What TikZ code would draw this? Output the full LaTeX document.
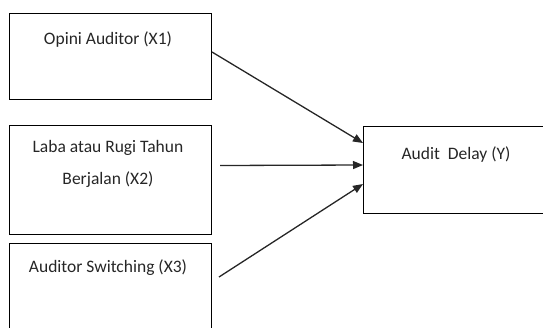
\documentclass[tikz,border=0pt]{standalone}
\usepackage{fontspec}
\setmainfont{Carlito}
\usetikzlibrary{arrows.meta,calc}
\begin{document}
\begin{tikzpicture}[x=1pt,y=-1pt,
  boxstyle/.style={draw=black,line width=1pt,rectangle,inner sep=0pt,anchor=north west},
  txt/.style={font=\fontsize{17.5}{32}\selectfont,align=center,inner sep=0pt,text=black!85},
  conn/.style={draw=black!85,line width=1.3pt,-{Triangle[length=10pt,width=8pt]}}]
\useasboundingbox (0,0) rectangle (543,327);
\clip (0,0) rectangle (543,327);
\node[boxstyle,minimum width=202pt,minimum height=86pt] (b1) at (9,13) {};
\node[boxstyle,minimum width=202pt,minimum height=109pt] (b2) at (9,125) {};
\node[boxstyle,minimum width=202pt,minimum height=110pt] (b3) at (9,243) {};
\node[boxstyle,minimum width=190pt,minimum height=87pt] (by) at (363,126) {};
\node[txt] (t1) at (108,40) {Opini Auditor (X1)};
\node[txt] (t2) at (108,164) {Laba atau Rugi Tahun\\Berjalan (X2)};
\node[txt] (t3) at (108,268) {Auditor Switching (X3)};
\node[txt] (ty) at (456,155) {Audit\ \ Delay (Y)};
\draw[conn] ($(b1.north east)+(0,39)$) -- ($(by.north west)+(0,17)$);
\draw[conn] ($(b2.east)+(8,-14.5)$) -- ($(by.north west)+(0,39)$);
\draw[conn] ($(b3.north east)+(7,34)$) -- ($(by.north west)+(0,58)$);
\end{tikzpicture}
\end{document}
